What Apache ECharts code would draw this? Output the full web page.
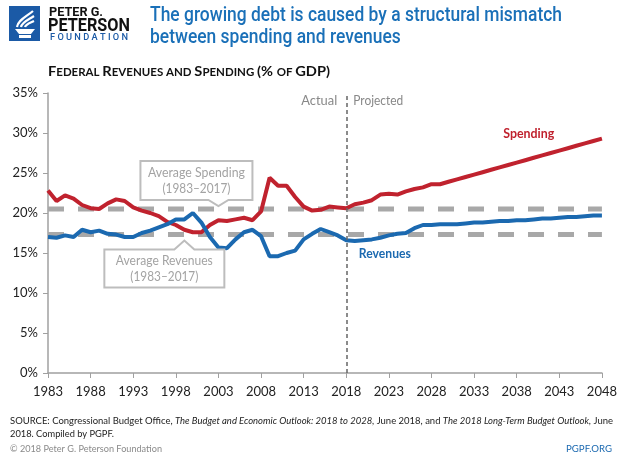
<!DOCTYPE html>
<html><head><meta charset="utf-8">
<script src="https://cdn.jsdelivr.net/npm/echarts@6/dist/echarts.min.js"></script>
<style>html,body{margin:0;padding:0;background:#fff}#c{width:620px;height:456px}</style>
</head><body><div id="c"></div>
<script>
// ---------- data ----------
const years = [];
for (let y = 1983; y <= 2048; y++) years.push(String(y));
const xTickLabels = ['1983','1988','1993','1998','2003','2008','2013','2018','2023','2028','2033','2038','2043','2048'];
const spending = [
  22.8,21.5,22.2,21.8,21.0,20.6,20.5,21.2,21.7,21.5,
  20.7,20.3,20.0,19.6,18.9,18.5,17.9,17.6,17.6,18.5,
  19.1,19.0,19.2,19.4,19.1,20.2,24.4,23.4,23.4,22.0,
  20.8,20.3,20.4,20.8,20.7,
  20.6,21.1,21.3,21.6,22.3,22.4,22.3,22.7,23.0,23.2,
  23.6,23.6,23.9,24.2,24.5,24.8,25.1,25.4,25.7,26.0,
  26.3,26.6,26.9,27.2,27.5,27.8,28.1,28.4,28.7,29.0,29.3
];
const revenues = [
  17.0,16.9,17.2,17.0,17.9,17.6,17.8,17.4,17.3,17.0,
  17.0,17.5,17.8,18.2,18.6,19.2,19.2,20.0,18.8,17.0,
  15.7,15.6,16.7,17.6,17.9,17.1,14.6,14.6,15.0,15.3,
  16.7,17.4,18.0,17.6,17.2,
  16.6,16.5,16.6,16.7,16.9,17.2,17.4,17.5,18.1,18.5,
  18.5,18.6,18.6,18.6,18.7,18.8,18.8,18.9,19.0,19.0,
  19.1,19.1,19.2,19.3,19.3,19.4,19.5,19.5,19.6,19.7,19.7
];
const avgSpending = 20.5;
const avgRevenues = 17.3;
const projectionStart = '2018';
const yMin = 0, yMax = 35, yStep = 5;

// ---------- helpers ----------
const FONT = 'Lato, "Open Sans", sans-serif';
const mctx = document.createElement('canvas').getContext('2d');
function tw(text, font){ mctx.font = font; return mctx.measureText(text).width; }
function row(segs, x0, y, target, va){
  let cx = 0; const children = [];
  segs.forEach(s => {
    children.push({type:'text', x:cx, y:0, style:{text:s.t, font:s.f, fill:s.c, verticalAlign: va || 'middle'}});
    cx += tw(s.t, s.f);
  });
  return {type:'group', x:x0, y:y, scaleX: target ? target / cx : 1, children};
}
function ctext(text, x, y, font, fill, target, align){
  const s = target ? target / tw(text, font) : 1;
  return {type:'text', x:x, y:y, scaleX:s, z:20, style:{text:text, font:font, fill:fill, align:align||'center', verticalAlign:'middle'}};
}

const RED = '#c0222e', BLUE = '#1b69b0', GRAY = '#a8a8a8';
const chart = echarts.init(document.getElementById('c'), null, {renderer:'canvas'});
const option = {
  animation:false,
  backgroundColor:'#fff',
  grid:{left:48, right:17, top:93, bottom:83},
  xAxis:{type:'category', data:years, boundaryGap:false,
    axisLine:{lineStyle:{color:'#a0a0a0', width:1.5}},
    axisTick:{interval:4, length:5, lineStyle:{color:'#a0a0a0'}},
    axisLabel:{interval:4, color:'#222', fontSize:13, fontFamily:FONT, margin:12,
      formatter: v => xTickLabels.indexOf(v) >= 0 ? v : ''},
    splitLine:{show:false}},
  yAxis:{type:'value', min:yMin, max:yMax, interval:yStep,
    axisLine:{show:true, lineStyle:{color:'#a0a0a0', width:1.5}},
    axisTick:{show:true, length:5, lineStyle:{color:'#a0a0a0'}},
    axisLabel:{formatter:'{value}%', color:'#222', fontSize:13, fontFamily:FONT, margin:10},
    splitLine:{show:false}},
  series:[
    {type:'line', name:'avgS', data:years.map(()=>avgSpending), symbol:'none', z:1, silent:true,
      lineStyle:{color:GRAY, width:5, type:[16,14]}},
    {type:'line', name:'avgR', data:years.map(()=>avgRevenues), symbol:'none', z:1, silent:true,
      lineStyle:{color:GRAY, width:5, type:[16,14]}},
    {type:'line', name:'Spending', data:spending, symbol:'none', z:3,
      lineStyle:{color:RED, width:4}},
    {type:'line', name:'Revenues', data:revenues, symbol:'none', z:3,
      lineStyle:{color:BLUE, width:4},
      markLine:{silent:true, symbol:'none', label:{show:false}, z:4,
        lineStyle:{color:'#666', width:1.5, type:[4,3]},
        data:[{xAxis:projectionStart}]}}
  ]
};
chart.setOption(option);

const P = (yr, v) => chart.convertToPixel({xAxisIndex:0, yAxisIndex:0}, [years.indexOf(String(yr)), v]);
const g = [];

// logo
g.push({type:'rect', shape:{x:9, y:6, width:31, height:35}, style:{fill:'#1b5aa6'}});
g.push({type:'polygon', shape:{points:[[15,29],[35,29],[31,34],[19,34]]}, style:{fill:'#fff'}});
g.push({type:'rect', shape:{x:19, y:35, width:12, height:3}, style:{fill:'#fff'}});
g.push({type:'bezierCurve', shape:{x1:17,y1:27,cpx1:18,cpy1:20,cpx2:26,cpy2:17,x2:33,y2:11}, style:{stroke:'#fff', lineWidth:2.2, fill:null}});
g.push({type:'bezierCurve', shape:{x1:21,y1:27,cpx1:22,cpy1:22,cpx2:28,cpy2:20,x2:34,y2:16}, style:{stroke:'#fff', lineWidth:2.2, fill:null}});
g.push({type:'bezierCurve', shape:{x1:25,y1:27,cpx1:26,cpy1:24,cpx2:30,cpy2:23,x2:34,y2:21}, style:{stroke:'#fff', lineWidth:2.2, fill:null}});
g.push(row([{t:'PETER G.', f:'bold 13px Roboto', c:'#111'}], 49, 13, 54));
g.push(row([{t:'PETERSON', f:'bold 19px Roboto', c:'#111'}], 48, 26, 82));
g.push(row([{t:'F O U N D A T I O N', f:'500 9px Roboto', c:'#1b5aa6'}], 50, 38, 78));

// title
const tf = '500 21px Roboto';
const t1 = 'The growing debt is caused by a structural mismatch';
const t2 = 'between spending and revenues';
const ts = 412 / tw(t1, tf);
g.push({type:'text', x:150, y:16, scaleX:ts, style:{text:t1, font:tf, fill:'#1a70b8', verticalAlign:'middle'}});
g.push({type:'text', x:150, y:38, scaleX:ts, style:{text:t2, font:tf, fill:'#1a70b8', verticalAlign:'middle'}});

// subtitle small caps
const B = 'bold 14px Lato', S = 'bold 11px Lato', K = '#111';
g.push(row([
  {t:'F',f:B,c:K},{t:'EDERAL ',f:S,c:K},{t:'R',f:B,c:K},{t:'EVENUES AND ',f:S,c:K},
  {t:'S',f:B,c:K},{t:'PENDING ',f:S,c:K},{t:'(% ',f:B,c:K},{t:'OF ',f:S,c:K},{t:'GDP)',f:B,c:K}
], 48, 78, 282, 'bottom'));

// actual / projected
const vx = P(projectionStart, 34);
g.push(ctext('Actual', vx[0]-9, 101, '13px Lato', '#888', 36, 'right'));
g.push(ctext('Projected', vx[0]+7, 101, '13px Lato', '#888', 50, 'left'));

// series labels
const sp = P(2040, 29.9);
g.push(ctext('Spending', sp[0]-5, sp[1], 'bold 14px Lato', RED, 51));
const rv = P(2023, 15.0);
g.push(ctext('Revenues', rv[0]-4, rv[1], 'bold 14px Lato', BLUE, 52));

// callouts
function callout(tipX, tipY, left, right, top, bottom, up, l1, l2, cx){
  const pts = up
    ? [[left,top],[tipX-10,top],[tipX,tipY],[tipX+10,top],[right,top],[right,bottom],[left,bottom]]
    : [[left,top],[right,top],[right,bottom],[tipX+10,bottom],[tipX,tipY],[tipX-10,bottom],[left,bottom]];
  g.push({type:'polygon', z:10, shape:{points:pts}, style:{fill:'#fff', stroke:'#bdbdbd', lineWidth:2}});
  const my = (top+bottom)/2;
  g.push(ctext(l1, cx, my-8, '14px Lato', '#a3a3a3', 97));
  g.push(ctext(l2, cx, my+8, '14px Lato', '#a3a3a3', 68));
}
const ps = P(2003, avgSpending);
callout(ps[0], ps[1]-3, ps[0]-78, ps[0]+34, ps[1]-48, ps[1]-9, false, 'Average Spending', '(1983\u20132017)', ps[0]-22);
const pr = P(1999, avgRevenues);
callout(pr[0], pr[1]+6, pr[0]-80, pr[0]+40, pr[1]+15, pr[1]+53, true, 'Average Revenues', '(1983\u20132017)', pr[0]-20);

// footer
const FN = '10px Lato', FI = 'italic 10px Lato', FC = '#222';
g.push(row([
  {t:'SOURCE: Congressional Budget Office, ',f:FN,c:FC},
  {t:'The Budget and Economic Outlook: 2018 to 2028,',f:FI,c:FC},
  {t:' June 2018, and ',f:FN,c:FC},
  {t:'The 2018 Long-Term Budget Outlook,',f:FI,c:FC},
  {t:' June',f:FN,c:FC}
], 10, 421, 603));
g.push(row([{t:'2018. Compiled by PGPF.',f:FN,c:FC}], 10, 434, 104));
g.push(row([{t:'\u00a9 2018 Peter G. Peterson Foundation',f:FN,c:'#8a8a8a'}], 10, 449, 152));
g.push(ctext('PGPF.ORG', 612, 449, '10px Lato', '#1b69b0', 46, 'right'));

chart.setOption({graphic:{elements:g}});
</script></body></html>
